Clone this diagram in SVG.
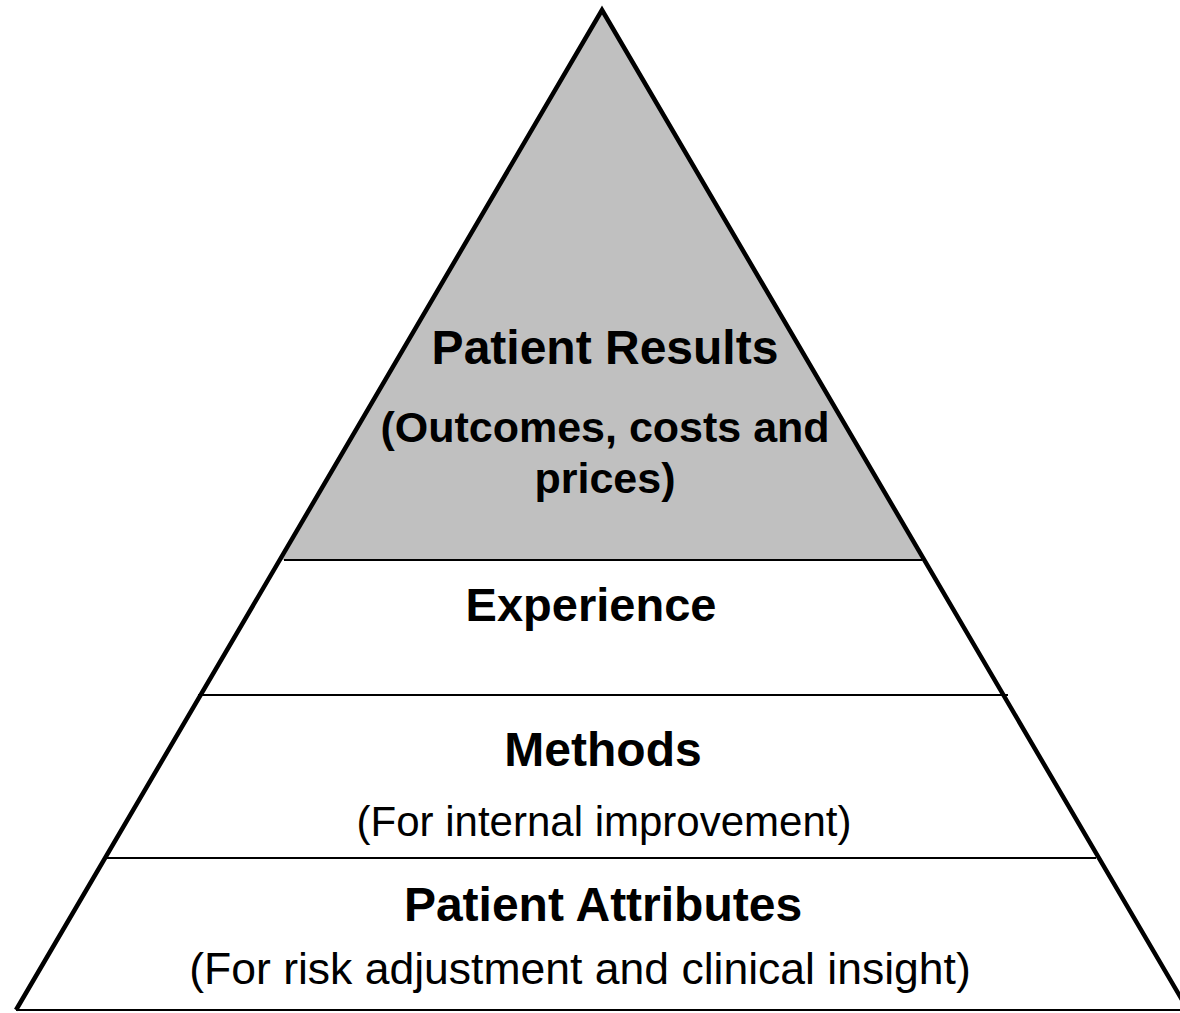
<svg xmlns="http://www.w3.org/2000/svg" width="1180" height="1013" viewBox="0 0 1180 1013">
<style>
.b{font-family:"Liberation Sans",Arial,sans-serif;font-weight:bold;fill:#000;text-anchor:middle}
.r{font-family:"Liberation Sans",Arial,sans-serif;fill:#000;text-anchor:middle}
.sep{stroke:#000;stroke-width:2;fill:none}
</style>
<rect width="1180" height="1013" fill="#fff"/>
<g id="top-tier">
<polygon points="602,10 282,560 922,560" fill="#c0c0c0"/>
<text class="b" x="605" y="364" font-size="48">Patient Results</text>
<text class="b" x="605" y="442" font-size="43">(Outcomes, costs and</text>
<text class="b" x="605" y="493" font-size="43">prices)</text>
</g>
<g id="experience">
<text class="b" x="591" y="621" font-size="47">Experience</text>
</g>
<g id="methods">
<text class="b" x="603" y="766" font-size="48">Methods</text>
<text class="r" x="604" y="836" font-size="42">(For internal improvement)</text>
</g>
<g id="attributes">
<text class="b" x="603" y="921" font-size="48">Patient Attributes</text>
<text class="r" x="580" y="984" font-size="44.5">(For risk adjustment and clinical insight)</text>
</g>
<g id="connectors">
<line class="sep" x1="284" y1="560" x2="922" y2="560"/>
<line class="sep" x1="198" y1="695" x2="1008" y2="695"/>
<line class="sep" x1="106" y1="858" x2="1096" y2="858"/>
<line class="sep" x1="16" y1="1010" x2="1188" y2="1010"/>
<polyline points="16,1010 602,10 1188,1010" fill="none" stroke="#000" stroke-width="4.5" stroke-linejoin="miter"/>
</g>
</svg>
